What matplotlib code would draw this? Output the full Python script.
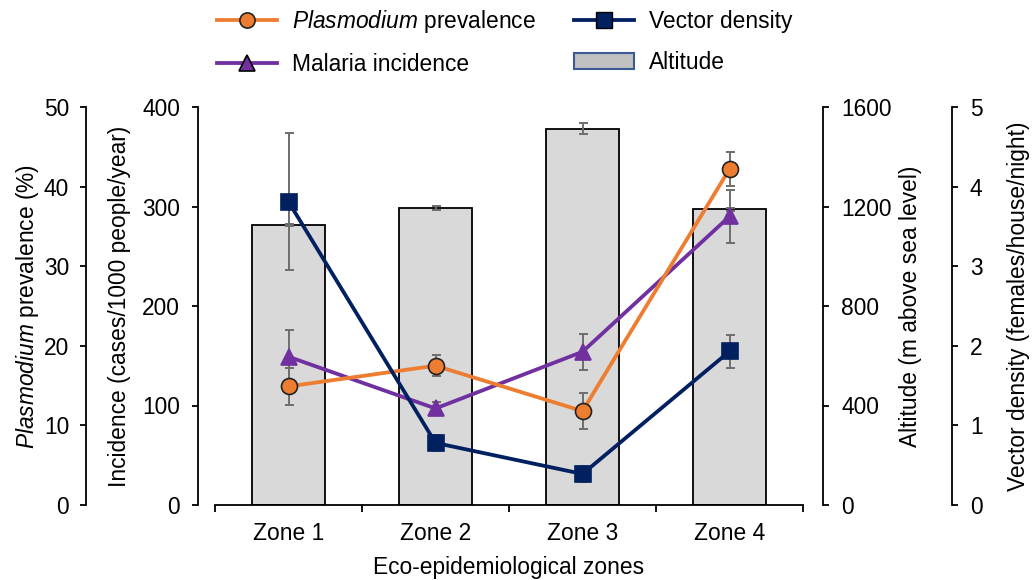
import matplotlib
matplotlib.use('Agg')
import matplotlib.pyplot as plt
from matplotlib.lines import Line2D
from matplotlib.patches import Patch

plt.rcParams['font.family'] = ['Liberation Sans', 'DejaVu Sans']
plt.rcParams['mathtext.fontset'] = 'custom'
plt.rcParams['mathtext.rm'] = 'Liberation Sans'
plt.rcParams['mathtext.it'] = 'Liberation Sans:italic'

# ---------------- data ----------------
zones = ['Zone 1', 'Zone 2', 'Zone 3', 'Zone 4']
altitude = [1126, 1195, 1513, 1188]
altitude_err = [3, 8, 23, 5]
prevalence = [14.9, 17.5, 11.8, 42.2]
prevalence_err = [2.3, 1.3, 2.3, 2.1]
incidence = [149, 97, 154, 290]
incidence_err = [27, 7, 18, 27]
density = [3.81, 0.78, 0.39, 1.93]
density_err = [0.86, 0.10, 0.10, 0.21]

prev_ticks = [0, 10, 20, 30, 40, 50]
inc_ticks = [0, 100, 200, 300, 400]
alt_ticks = [0, 400, 800, 1200, 1600]
dens_ticks = [0, 1, 2, 3, 4, 5]

# ---------------- style ----------------
DPI = 100
W, H = 1035, 580
PT = 72.0 / DPI
FS = 16.4
ORANGE = '#ED7D31'
PURPLE = '#7030A0'
NAVY = '#002060'
BARC = '#D9D9D9'
ERRC = '#6E6E6E'

fig = plt.figure(figsize=(W / DPI, H / DPI), dpi=DPI)
left, right, top, bottom = 215, 803, 107, 505
rect = [left / W, 1 - bottom / H, (right - left) / W, (bottom - top) / H]

ax_alt = fig.add_axes(rect)
ax_inc = ax_alt.twinx()
ax_prev = ax_alt.twinx()
ax_dens = ax_alt.twinx()

x = list(range(len(zones)))

# bars (altitude)
ax_alt.bar(x, altitude, width=0.5, color=BARC, edgecolor='black', linewidth=1.3, zorder=1)
ax_alt.errorbar(x, altitude, yerr=altitude_err, fmt='none', ecolor=ERRC,
                elinewidth=1.4, capsize=4.5 * PT, capthick=1.4, zorder=2)
ax_alt.set_ylim(0, 1600)
ax_alt.set_xlim(-0.5, 3.5)

lw = 3.8 * PT
ms = 16 * PT

def series(ax, vals, errs, color, marker, mec, ms_):
    ax.errorbar(x, vals, yerr=errs, fmt='none', ecolor=ERRC, elinewidth=1.4,
                capsize=4.5 * PT, capthick=1.4, zorder=2)
    ax.plot(x, vals, color=color, lw=lw, marker=marker, markersize=ms_,
            markerfacecolor=color, markeredgecolor=mec, markeredgewidth=1.2, zorder=3)

series(ax_inc, incidence, incidence_err, PURPLE, '^', PURPLE, ms * 1.05)
ax_inc.set_ylim(0, 400)
series(ax_prev, prevalence, prevalence_err, ORANGE, 'o', '#222222', ms)
ax_prev.set_ylim(0, 50)
series(ax_dens, density, density_err, NAVY, 's', NAVY, ms * 0.95)
ax_dens.set_ylim(0, 5)

# ---------------- axes styling ----------------
for a in (ax_alt, ax_inc, ax_prev, ax_dens):
    a.patch.set_visible(False)
    for s in a.spines.values():
        s.set_visible(False)
        s.set_linewidth(1.3)
        s.set_color('black')

# x axis on ax_alt
ax_alt.spines['bottom'].set_visible(True)
ax_alt.set_xticks([-0.5, 0.5, 1.5, 2.5, 3.5])
ax_alt.set_xticklabels([])
ax_alt.set_xticks(x, minor=True)
ax_alt.set_xticklabels(zones, minor=True, fontsize=FS)
ax_alt.tick_params(axis='x', which='major', direction='out', length=7 * PT, width=1.3)
ax_alt.tick_params(axis='x', which='minor', length=0, pad=17 * PT)
ax_alt.set_xlabel('Eco-epidemiological zones', fontsize=FS, labelpad=11 * PT)

def style_y(ax, side, offset_px, ticks, label, pad_px, label_x):
    sp = ax.spines[side]
    sp.set_visible(True)
    sp.set_position(('outward', offset_px * PT))
    ax.yaxis.set_ticks_position(side)
    ax.yaxis.set_label_position(side)
    ax.set_yticks(ticks)
    ax.set_yticklabels([str(t) for t in ticks], fontsize=FS)
    ax.set_yticks([0], minor=True)
    ax.tick_params(axis='y', which='major', direction='out', length=6 * PT, width=1.3,
                   pad=pad_px * PT)
    ax.tick_params(axis='y', which='minor', direction='inout', length=14 * PT, width=1.3)
    ax.set_ylabel(label, fontsize=FS)
    ax.yaxis.set_label_coords(label_x, 0.5)
    ax.yaxis.label.set_verticalalignment('center')
    ax.yaxis.label.set_horizontalalignment('center')
    ax.yaxis.label.set_rotation(90)

for a in (ax_inc, ax_prev, ax_dens):
    a.tick_params(axis='x', which='both', bottom=False, top=False,
                  labelbottom=False, labeltop=False)

style_y(ax_prev, 'left', left - 86, prev_ticks, r'$\mathit{Plasmodium}$ prevalence (%)', 11,
        (28 - left) / (right - left))
style_y(ax_inc, 'left', left - 198, inc_ticks, 'Incidence (cases/1000 people/year)', 12,
        (120 - left) / (right - left))
style_y(ax_alt, 'right', 823 - right, alt_ticks, 'Altitude (m above sea level)', 12,
        (910 - left) / (right - left))
style_y(ax_dens, 'right', 952 - right, dens_ticks, 'Vector density (females/house/night)', 12,
        (1019 - left) / (right - left))

# ---------------- legend ----------------
handles = [
    Line2D([], [], color=ORANGE, lw=lw, marker='o', markersize=ms * 0.95,
           markerfacecolor=ORANGE, markeredgecolor='#222222', markeredgewidth=1.2),
    Line2D([], [], color=PURPLE, lw=lw, marker='^', markersize=ms * 0.95,
           markerfacecolor=PURPLE, markeredgecolor='black', markeredgewidth=1.2),
    Line2D([], [], color=NAVY, lw=lw, marker='s', markersize=ms * 0.95,
           markerfacecolor=NAVY, markeredgecolor='black', markeredgewidth=1.0),
    Patch(facecolor='#C0C0C0', edgecolor='#3A5A98', linewidth=1.5),
]
labels = [r'$\mathit{Plasmodium}$ prevalence', 'Malaria incidence', 'Vector density', 'Altitude']
fig.legend(handles, labels, ncol=2, loc='upper left',
           bbox_to_anchor=(217 / W, 1 - 8 / H), frameon=False, fontsize=FS,
           borderpad=0, borderaxespad=0, handlelength=2.65, handletextpad=0.66,
           columnspacing=1.65, labelspacing=0.8, numpoints=1)

fig.savefig('out.png', dpi=DPI)
